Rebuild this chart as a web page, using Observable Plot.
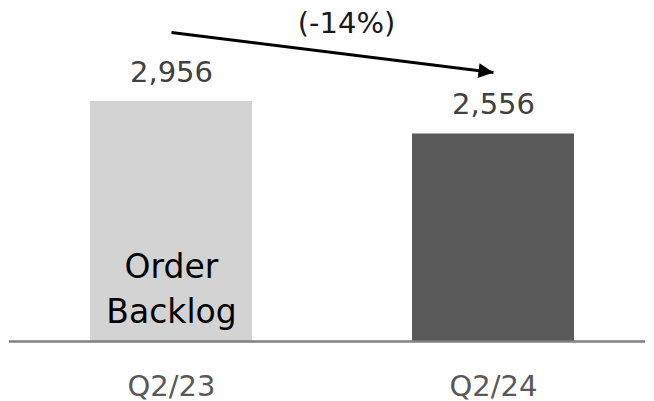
<!DOCTYPE html>
<html>
<head>
<meta charset="utf-8">
<script src="https://cdn.jsdelivr.net/npm/d3@7"></script>
<script src="https://cdn.jsdelivr.net/npm/@observablehq/plot@0.6"></script>
<style>
  html, body { margin: 0; padding: 0; background: #fff; }
</style>
</head>
<body>
<div id="chart"></div>
<script>
const categories = ["Q2/23", "Q2/24"];
const values = [2956, 2556];
const valueLabels = ["2,956", "2,556"];
const barName = "Order\nBacklog";
const changeLabel = "(-14%)";
const arrowFrom = 3806;
const arrowTo = 3313;

const data = categories.map((c, i) => ({cat: c, value: values[i], label: valueLabels[i]}));

const plot = Plot.plot({
  width: 654,
  height: 401,
  marginTop: 0,
  marginLeft: 9,
  marginRight: 9,
  marginBottom: 60,
  style: {fontFamily: "'DejaVu Sans', sans-serif", background: "white"},
  x: {domain: categories, range: [90, 574], paddingInner: 0.497, paddingOuter: 0, axis: null},
  y: {domain: [0, values[0]], range: [341, 101], axis: null},
  color: {domain: categories, range: ["#d3d3d3", "#595959"]},
  marks: [
    Plot.barY(data, {x: "cat", y: "value", fill: "cat"}),
    Plot.ruleY([0], {stroke: "#808080", strokeWidth: 2.5}),
    Plot.text(data, {x: "cat", y: "value", text: "label", dy: -20, lineAnchor: "bottom", fontSize: 29, fill: "#404040"}),
    Plot.text(categories, {x: d => d, text: d => d, frameAnchor: "bottom", dy: 54, lineAnchor: "bottom", fontSize: 29, fill: "#595959"}),
    Plot.text([{cat: categories[0], label: barName}], {x: "cat", text: "label", frameAnchor: "bottom", dy: -19, lineAnchor: "bottom", lineHeight: 1.36, fontSize: 33, fill: "#000"}),
    Plot.link([{x1: categories[0], y1: arrowFrom, x2: categories[1], y2: arrowTo}], {x1: "x1", y1: "y1", x2: "x2", y2: "y2", stroke: "black", strokeWidth: 3, markerEnd: "arrow"}),
    Plot.text([changeLabel], {text: d => d, frameAnchor: "top", dx: 19, dy: 32, lineAnchor: "bottom", fontSize: 29, fill: "#1a1a1a"})
  ]
});

// make the arrowhead a filled triangle
d3.select(plot).selectAll("marker").each(function() {
  const m = d3.select(this);
  m.attr("viewBox", "-16 -8 16 16")
   .attr("markerUnits", "userSpaceOnUse")
   .attr("markerWidth", 16)
   .attr("markerHeight", 16)
   .attr("refX", 0).attr("refY", 0)
   .attr("fill", "black").attr("stroke", "none");
  m.selectAll("*").remove();
  m.append("path").attr("d", "M-15,-7.5L0,0L-15,7.5Z");
});

document.getElementById("chart").appendChild(plot);
</script>
</body>
</html>
